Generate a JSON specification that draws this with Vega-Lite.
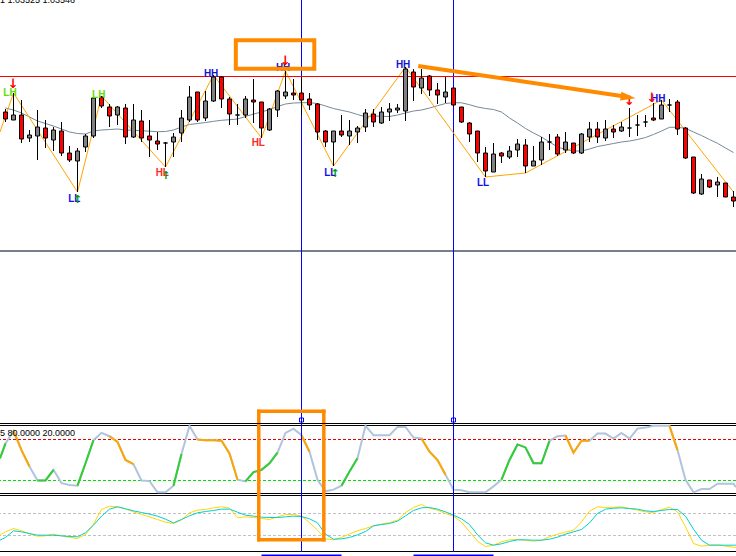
{
"$schema": "https://vega.github.io/schema/vega-lite/v6.json",
"padding": 0,
"spacing": 0,
"bounds": "flush",
"background": "white",
"config": {"view": {"stroke": null}},
"datasets": {
"candles": [
{"i":0,"o":1.03888,"h":1.03891,"l":1.03878,"c":1.03881,"ma":1.03892},
{"i":1,"o":1.03880,"h":1.03907,"l":1.03880,"c":1.03885,"ma":1.03890},
{"i":2,"o":1.03885,"h":1.03900,"l":1.03857,"c":1.03861,"ma":1.03887},
{"i":3,"o":1.03862,"h":1.03870,"l":1.03858,"c":1.03865,"ma":1.03883},
{"i":4,"o":1.03864,"h":1.03890,"l":1.03840,"c":1.03873,"ma":1.03879},
{"i":5,"o":1.03872,"h":1.03880,"l":1.03852,"c":1.03862,"ma":1.038765},
{"i":6,"o":1.03860,"h":1.03873,"l":1.03849,"c":1.03870,"ma":1.03874},
{"i":7,"o":1.03869,"h":1.03878,"l":1.03844,"c":1.03847,"ma":1.03871},
{"i":8,"o":1.03847,"h":1.03854,"l":1.03838,"c":1.03840,"ma":1.03868},
{"i":9,"o":1.03839,"h":1.03852,"l":1.03808,"c":1.03849,"ma":1.038665},
{"i":10,"o":1.03853,"h":1.03866,"l":1.03848,"c":1.03864,"ma":1.03866},
{"i":11,"o":1.03864,"h":1.03903,"l":1.03862,"c":1.03902,"ma":1.03869},
{"i":12,"o":1.03903,"h":1.03904,"l":1.03892,"c":1.03894,"ma":1.03870},
{"i":13,"o":1.03893,"h":1.03896,"l":1.03873,"c":1.03884,"ma":1.038705},
{"i":14,"o":1.03885,"h":1.03894,"l":1.03875,"c":1.03893,"ma":1.03871},
{"i":15,"o":1.03892,"h":1.03896,"l":1.03856,"c":1.03863,"ma":1.03870},
{"i":16,"o":1.03863,"h":1.03896,"l":1.03862,"c":1.03880,"ma":1.038697},
{"i":17,"o":1.03879,"h":1.03890,"l":1.03858,"c":1.03862,"ma":1.038693},
{"i":18,"o":1.03864,"h":1.03880,"l":1.03843,"c":1.03860,"ma":1.038688},
{"i":19,"o":1.03859,"h":1.03868,"l":1.03850,"c":1.03856,"ma":1.038683},
{"i":20,"o":1.03857,"h":1.03858,"l":1.03833,"c":1.03857,"ma":1.038685},
{"i":21,"o":1.03858,"h":1.03867,"l":1.03843,"c":1.03863,"ma":1.03870},
{"i":22,"o":1.03867,"h":1.03890,"l":1.03858,"c":1.03882,"ma":1.03873},
{"i":23,"o":1.03880,"h":1.03914,"l":1.03878,"c":1.03903,"ma":1.038755},
{"i":24,"o":1.03908,"h":1.03908,"l":1.03878,"c":1.03880,"ma":1.038765},
{"i":25,"o":1.03882,"h":1.03909,"l":1.03879,"c":1.03899,"ma":1.038775},
{"i":26,"o":1.03899,"h":1.03925,"l":1.03898,"c":1.03923,"ma":1.038787},
{"i":27,"o":1.03923,"h":1.03924,"l":1.03892,"c":1.03901,"ma":1.038797},
{"i":28,"o":1.03901,"h":1.03903,"l":1.03875,"c":1.03886,"ma":1.038803},
{"i":29,"o":1.03885,"h":1.03896,"l":1.03875,"c":1.03885,"ma":1.03881},
{"i":30,"o":1.03885,"h":1.03904,"l":1.03882,"c":1.03901,"ma":1.038835},
{"i":31,"o":1.03900,"h":1.03921,"l":1.03877,"c":1.03898,"ma":1.03886},
{"i":32,"o":1.03898,"h":1.03898,"l":1.03862,"c":1.03872,"ma":1.03888},
{"i":33,"o":1.03870,"h":1.03892,"l":1.03869,"c":1.03891,"ma":1.038905},
{"i":34,"o":1.03890,"h":1.03910,"l":1.03883,"c":1.03909,"ma":1.038935},
{"i":35,"o":1.03904,"h":1.03929,"l":1.03901,"c":1.03908,"ma":1.03896},
{"i":36,"o":1.03907,"h":1.03921,"l":1.03900,"c":1.03905,"ma":1.03897},
{"i":37,"o":1.03907,"h":1.03923,"l":1.03885,"c":1.03900,"ma":1.038973},
{"i":38,"o":1.03901,"h":1.03907,"l":1.03890,"c":1.03895,"ma":1.038973},
{"i":39,"o":1.03896,"h":1.03897,"l":1.03860,"c":1.03868,"ma":1.038965},
{"i":40,"o":1.03869,"h":1.03870,"l":1.03853,"c":1.03858,"ma":1.03894},
{"i":41,"o":1.03858,"h":1.03869,"l":1.03834,"c":1.03869,"ma":1.038915},
{"i":42,"o":1.03869,"h":1.03885,"l":1.03863,"c":1.03865,"ma":1.038897},
{"i":43,"o":1.03864,"h":1.03880,"l":1.03855,"c":1.03869,"ma":1.03888},
{"i":44,"o":1.03868,"h":1.03874,"l":1.03857,"c":1.03872,"ma":1.038855},
{"i":45,"o":1.03873,"h":1.03891,"l":1.03868,"c":1.03887,"ma":1.038833},
{"i":46,"o":1.03886,"h":1.03891,"l":1.03873,"c":1.03878,"ma":1.03884},
{"i":47,"o":1.03877,"h":1.03893,"l":1.03876,"c":1.03888,"ma":1.038837},
{"i":48,"o":1.03888,"h":1.03897,"l":1.03879,"c":1.03891,"ma":1.038835},
{"i":49,"o":1.03890,"h":1.03896,"l":1.03887,"c":1.03892,"ma":1.03885},
{"i":50,"o":1.03889,"h":1.03933,"l":1.03879,"c":1.03931,"ma":1.03887},
{"i":51,"o":1.03928,"h":1.03931,"l":1.03899,"c":1.03913,"ma":1.03889},
{"i":52,"o":1.03912,"h":1.03931,"l":1.03906,"c":1.03922,"ma":1.03890},
{"i":53,"o":1.03924,"h":1.03925,"l":1.03904,"c":1.03910,"ma":1.03892},
{"i":54,"o":1.03910,"h":1.03917,"l":1.03896,"c":1.03905,"ma":1.038943},
{"i":55,"o":1.03903,"h":1.03923,"l":1.03897,"c":1.03908,"ma":1.038965},
{"i":56,"o":1.03912,"h":1.03912,"l":1.03893,"c":1.03895,"ma":1.038973},
{"i":57,"o":1.03893,"h":1.03893,"l":1.03877,"c":1.03878,"ma":1.038972},
{"i":58,"o":1.03877,"h":1.03878,"l":1.03858,"c":1.03866,"ma":1.038953},
{"i":59,"o":1.03869,"h":1.03869,"l":1.03838,"c":1.03847,"ma":1.03893},
{"i":60,"o":1.03847,"h":1.03853,"l":1.03823,"c":1.03829,"ma":1.038915},
{"i":61,"o":1.03828,"h":1.03857,"l":1.03828,"c":1.03846,"ma":1.038905},
{"i":62,"o":1.03847,"h":1.03848,"l":1.03837,"c":1.03844,"ma":1.03888},
{"i":63,"o":1.03843,"h":1.03854,"l":1.03841,"c":1.03849,"ma":1.03882},
{"i":64,"o":1.03850,"h":1.03861,"l":1.03843,"c":1.03856,"ma":1.03877},
{"i":65,"o":1.03855,"h":1.03861,"l":1.03827,"c":1.03834,"ma":1.038715},
{"i":66,"o":1.03834,"h":1.03854,"l":1.03834,"c":1.03839,"ma":1.03867},
{"i":67,"o":1.03840,"h":1.03863,"l":1.03835,"c":1.03858,"ma":1.03863},
{"i":68,"o":1.03858,"h":1.03866,"l":1.03850,"c":1.03858,"ma":1.03858},
{"i":69,"o":1.03863,"h":1.03866,"l":1.03844,"c":1.03846,"ma":1.03853},
{"i":70,"o":1.03850,"h":1.03868,"l":1.03847,"c":1.03858,"ma":1.038505},
{"i":71,"o":1.03857,"h":1.03857,"l":1.03846,"c":1.03847,"ma":1.03849},
{"i":72,"o":1.03847,"h":1.03867,"l":1.03846,"c":1.03866,"ma":1.03849},
{"i":73,"o":1.03863,"h":1.03878,"l":1.03858,"c":1.03871,"ma":1.03851},
{"i":74,"o":1.03871,"h":1.03878,"l":1.03857,"c":1.03863,"ma":1.038535},
{"i":75,"o":1.03862,"h":1.03880,"l":1.03859,"c":1.03871,"ma":1.03855},
{"i":76,"o":1.03871,"h":1.03875,"l":1.03862,"c":1.03868,"ma":1.038565},
{"i":77,"o":1.03869,"h":1.03878,"l":1.03868,"c":1.03873,"ma":1.03858},
{"i":78,"o":1.03872,"h":1.03892,"l":1.03863,"c":1.03872,"ma":1.03859},
{"i":79,"o":1.03875,"h":1.03885,"l":1.03864,"c":1.03875,"ma":1.038605},
{"i":80,"o":1.03878,"h":1.03885,"l":1.03873,"c":1.03878,"ma":1.038625},
{"i":81,"o":1.03882,"h":1.03897,"l":1.03879,"c":1.03880,"ma":1.038655},
{"i":82,"o":1.03881,"h":1.03900,"l":1.03881,"c":1.03895,"ma":1.03869},
{"i":83,"o":1.03895,"h":1.03901,"l":1.03888,"c":1.03895,"ma":1.038727},
{"i":84,"o":1.03898,"h":1.03900,"l":1.03865,"c":1.03871,"ma":1.038727},
{"i":85,"o":1.03872,"h":1.03873,"l":1.03841,"c":1.03842,"ma":1.038717},
{"i":86,"o":1.03843,"h":1.03843,"l":1.03806,"c":1.03807,"ma":1.03868},
{"i":87,"o":1.03806,"h":1.03826,"l":1.03805,"c":1.03821,"ma":1.038645},
{"i":88,"o":1.03820,"h":1.03820,"l":1.03812,"c":1.03813,"ma":1.038605},
{"i":89,"o":1.03815,"h":1.03823,"l":1.03803,"c":1.03818,"ma":1.038567},
{"i":90,"o":1.03817,"h":1.03817,"l":1.03803,"c":1.03803,"ma":1.03852},
{"i":91,"o":1.03803,"h":1.03809,"l":1.03793,"c":1.03799,"ma":1.038475}
],
"zz": [
{"i":-0.6875,"p":1.03868},{"i":1,"p":1.03907},{"i":9,"p":1.03808},{"i":12,"p":1.03904},{"i":20,"p":1.03833},{"i":26,"p":1.03925},{"i":32,"p":1.03862},{"i":35,"p":1.03929},{"i":41,"p":1.03834},{"i":50,"p":1.03933},{"i":60,"p":1.03823},{"i":65,"p":1.03827},{"i":82,"p":1.03900},{"i":91,"p":1.03808}
],
"labels": [
{"i":0.56,"p":1.03907,"t":"LH"},{"i":8.6,"p":1.03801,"t":"LL"},{"i":11.66,"p":1.039055,"t":"LH"},{"i":19.6,"p":1.03827,"t":"HL"},{"i":25.7,"p":1.03926,"t":"HH"},{"i":31.6,"p":1.03857,"t":"HL"},{"i":34.7,"p":1.03932,"t":"HH"},{"i":40.6,"p":1.038275,"t":"LL"},{"i":49.7,"p":1.03935,"t":"HH"},{"i":59.7,"p":1.03817,"t":"LL"},{"i":81.6,"p":1.03901,"t":"HH"}
],
"signals": [
{"i":0.96,"p":1.03916,"t":"↓"},{"i":9.0,"p":1.038005,"t":"↑"},{"i":20.06,"p":1.03824,"t":"↑"},{"i":35.0,"p":1.03939,"t":"↓"},{"i":41.2,"p":1.03826,"t":"↑"},{"i":78.0,"p":1.03899,"t":"↓"},{"i":80.8,"p":1.03902,"t":"↓"}
],
"cross": [{"i":37},{"i":56}],
"boxes": [{"i":28.79,"i2":38.6,"p":1.039597,"p2":1.039313}],
"arrow": [{"i":51.59,"p":1.03934,"i2":77.0,"p2":1.03904}],
"arrowhead": [{"i":77.83,"p":1.039028}],
"focus": [{"i":31.66,"i2":39.79}],
"focusSides": [{"i":31.66},{"i":39.79}],
"stamps": [{"i":32,"i2":42},{"i":51,"i2":61}],
"osc": [
{"i":-0.6875,"k":52.5,"yel":30.6,"cya":21.5},
{"i":0,"k":74.2,"yel":36.7,"cya":26.4},
{"i":1,"k":92.6,"yel":42.7,"cya":38.5},
{"i":2,"k":64.5,"yel":38.5,"cya":36.7},
{"i":3,"k":40.4,"yel":33.0,"cya":33.6},
{"i":4,"k":20.1,"yel":28.8,"cya":30.6},
{"i":5,"k":20.1,"yel":29.4,"cya":30.6},
{"i":6,"k":35.6,"yel":32.4,"cya":30.6},
{"i":7,"k":16.2,"yel":29.4,"cya":29.4},
{"i":8,"k":13.3,"yel":26.4,"cya":28.2},
{"i":9,"k":12.4,"yel":24.6,"cya":27.6},
{"i":10,"k":45.2,"yel":31.8,"cya":34.9},
{"i":11,"k":79.0,"yel":50.6,"cya":48.8},
{"i":12,"k":89.7,"yel":77.3,"cya":65.2},
{"i":13,"k":84.8,"yel":83.3,"cya":77.9},
{"i":14,"k":76.6,"yel":82.1,"cya":82.1},
{"i":15,"k":50.0,"yel":78.5,"cya":78.5},
{"i":16,"k":43.8,"yel":73.0,"cya":74.8},
{"i":17,"k":20.1,"yel":68.2,"cya":71.8},
{"i":18,"k":19.1,"yel":63.9,"cya":68.8},
{"i":19,"k":2.7,"yel":59.1,"cya":65.2},
{"i":20,"k":2.7,"yel":54.2,"cya":59.7},
{"i":21,"k":12.4,"yel":51.8,"cya":53.0},
{"i":22,"k":58.7,"yel":58.5,"cya":59.1},
{"i":23,"k":100,"yel":71.2,"cya":65.8},
{"i":24,"k":80.0,"yel":76.1,"cya":71.2},
{"i":25,"k":79.0,"yel":77.3,"cya":73.6},
{"i":26,"k":79.0,"yel":80.3,"cya":75.5},
{"i":27,"k":78.1,"yel":82.1,"cya":77.9},
{"i":28,"k":59.7,"yel":79.7,"cya":77.9},
{"i":29,"k":21.1,"yel":62.7,"cya":72.4},
{"i":30,"k":18.6,"yel":63.9,"cya":67.0},
{"i":31,"k":32.2,"yel":62.7,"cya":65.2},
{"i":32,"k":35.6,"yel":60.9,"cya":63.3},
{"i":33,"k":45.2,"yel":59.1,"cya":62.7},
{"i":34,"k":60.7,"yel":63.9,"cya":62.7},
{"i":35,"k":89.7,"yel":68.2,"cya":63.9},
{"i":36,"k":95.9,"yel":68.2,"cya":65.2},
{"i":37,"k":86.3,"yel":65.2,"cya":64.5},
{"i":38,"k":62.1,"yel":53.6,"cya":60.3},
{"i":39,"k":21.1,"yel":39.7,"cya":53.0},
{"i":40,"k":4.2,"yel":23.9,"cya":32.4},
{"i":41,"k":6.6,"yel":22.1,"cya":23.3},
{"i":42,"k":12.4,"yel":26.4,"cya":23.9},
{"i":43,"k":33.1,"yel":33.0,"cya":26.4},
{"i":44,"k":52.5,"yel":38.5,"cya":31.2},
{"i":45,"k":100,"yel":42.7,"cya":37.3},
{"i":46,"k":86.3,"yel":47.6,"cya":47.6},
{"i":47,"k":86.3,"yel":50.6,"cya":50.0},
{"i":48,"k":86.3,"yel":53.6,"cya":51.8},
{"i":49,"k":98.4,"yel":57.9,"cya":56.1},
{"i":50,"k":98.4,"yel":71.8,"cya":65.8},
{"i":51,"k":82.9,"yel":80.9,"cya":75.5},
{"i":52,"k":81.4,"yel":86.4,"cya":80.3},
{"i":53,"k":62.1,"yel":79.7,"cya":80.9},
{"i":54,"k":50.0,"yel":76.1,"cya":77.9},
{"i":55,"k":28.3,"yel":70.0,"cya":73.0},
{"i":56,"k":6.6,"yel":65.2,"cya":67.0},
{"i":57,"k":5.6,"yel":54.2,"cya":60.3},
{"i":58,"k":2.7,"yel":37.3,"cya":50.0},
{"i":59,"k":2.7,"yel":19.7,"cya":31.2},
{"i":60,"k":2.7,"yel":10.0,"cya":16.7},
{"i":61,"k":11.4,"yel":12.4,"cya":12.4},
{"i":62,"k":21.1,"yel":18.5,"cya":14.9},
{"i":63,"k":50.0,"yel":22.1,"cya":19.1},
{"i":64,"k":72.8,"yel":22.7,"cya":22.1},
{"i":65,"k":68.4,"yel":21.5,"cya":22.1},
{"i":66,"k":45.2,"yel":19.7,"cya":21.5},
{"i":67,"k":45.2,"yel":21.5,"cya":21.5},
{"i":68,"k":78.1,"yel":27.6,"cya":23.3},
{"i":69,"k":84.8,"yel":32.4,"cya":27.0},
{"i":70,"k":85.8,"yel":36.1,"cya":32.4},
{"i":71,"k":60.7,"yel":39.7,"cya":36.7},
{"i":72,"k":78.1,"yel":54.9,"cya":40.9},
{"i":73,"k":78.1,"yel":74.2,"cya":53.0},
{"i":74,"k":88.7,"yel":82.1,"cya":70.0},
{"i":75,"k":88.7,"yel":80.9,"cya":77.9},
{"i":76,"k":81.4,"yel":81.5,"cya":79.7},
{"i":77,"k":89.7,"yel":82.1,"cya":80.3},
{"i":78,"k":81.4,"yel":79.1,"cya":79.1},
{"i":79,"k":95.9,"yel":76.1,"cya":77.9},
{"i":80,"k":97.4,"yel":73.0,"cya":74.8},
{"i":81,"k":100,"yel":71.8,"cya":73.6},
{"i":82,"k":100,"yel":77.3,"cya":75.5},
{"i":83,"k":100,"yel":81.5,"cya":77.3},
{"i":84,"k":64.5,"yel":73.0,"cya":77.3},
{"i":85,"k":21.1,"yel":45.8,"cya":65.2},
{"i":86,"k":2.7,"yel":15.5,"cya":41.5},
{"i":87,"k":7.5,"yel":10.6,"cya":21.5},
{"i":88,"k":7.5,"yel":12.4,"cya":12.4},
{"i":89,"k":15.3,"yel":13.1,"cya":12.4},
{"i":90,"k":15.3,"yel":10.6,"cya":12.4},
{"i":91,"k":15.3,"yel":8.8,"cya":12.4},
{"i":91.3125,"k":10.4,"yel":8.2,"cya":12.4}
],
"runs": [
{"run":"G1","col":"up","i":-0.6875},{"run":"G1","col":"up","i":0},
{"run":"O1","col":"down","i":1},{"run":"O1","col":"down","i":2},{"run":"O1","col":"down","i":3},
{"run":"G2","col":"up","i":4},{"run":"G2","col":"up","i":5},{"run":"G2","col":"up","i":6},
{"run":"G3","col":"up","i":9},{"run":"G3","col":"up","i":10},{"run":"G3","col":"up","i":11},
{"run":"O2","col":"down","i":13},{"run":"O2","col":"down","i":14},{"run":"O2","col":"down","i":15},{"run":"O2","col":"down","i":16},
{"run":"G4","col":"up","i":21},{"run":"G4","col":"up","i":22},
{"run":"O3","col":"down","i":24},{"run":"O3","col":"down","i":25},{"run":"O3","col":"down","i":26},{"run":"O3","col":"down","i":27},{"run":"O3","col":"down","i":28},{"run":"O3","col":"down","i":29},
{"run":"G5","col":"up","i":30},{"run":"G5","col":"up","i":31},{"run":"G5","col":"up","i":32},{"run":"G5","col":"up","i":33},{"run":"G5","col":"up","i":34},
{"run":"O4","col":"down","i":37},{"run":"O4","col":"down","i":38},
{"run":"G6","col":"up","i":42},{"run":"G6","col":"up","i":43},{"run":"G6","col":"up","i":44},
{"run":"O5","col":"down","i":52},{"run":"O5","col":"down","i":53},{"run":"O5","col":"down","i":54},{"run":"O5","col":"down","i":55},
{"run":"G7","col":"up","i":62},{"run":"G7","col":"up","i":63},{"run":"G7","col":"up","i":64},{"run":"G7","col":"up","i":65},{"run":"G7","col":"up","i":66},{"run":"G7","col":"up","i":67},{"run":"G7","col":"up","i":68},
{"run":"O6","col":"down","i":70},{"run":"O6","col":"down","i":71},{"run":"O6","col":"down","i":72},{"run":"O6","col":"down","i":73},
{"run":"O7","col":"down","i":83},{"run":"O7","col":"down","i":84}
]
},
"vconcat": [
{
"width": 736, "height": 424,
"resolve": {"scale": {"color": "independent"}},
"layer": [
{"data": {"values": [{"p": 1.03749}]}, "mark": {"type": "rule", "color": "#76808a", "strokeWidth": 2, "clip": true},
 "encoding": {"y": {"field": "p", "type": "quantitative", "scale": {"domain": [1.03576, 1.04], "nice": false, "zero": false}, "axis": null}}},
{"data": {"name": "cross"}, "mark": {"type": "rule", "color": "#0000ff", "strokeWidth": 1, "clip": true},
 "encoding": {"x": {"field": "i", "type": "quantitative", "scale": {"domain": [-0.6875, 91.3125], "nice": false, "zero": false, "padding": 0}, "axis": null}}},
{"data": {"name": "candles"}, "mark": {"type": "line", "color": "#778899", "strokeWidth": 1, "clip": true},
 "encoding": {"x": {"field": "i", "type": "quantitative", "scale": {"domain": [-0.6875, 91.3125], "nice": false, "zero": false, "padding": 0}, "axis": null},
  "y": {"field": "ma", "type": "quantitative", "scale": {"domain": [1.03576, 1.04], "nice": false, "zero": false}, "axis": null}}},
{"data": {"name": "zz"}, "mark": {"type": "line", "color": "#ffa500", "strokeWidth": 1, "clip": true},
 "encoding": {"x": {"field": "i", "type": "quantitative", "scale": {"domain": [-0.6875, 91.3125], "nice": false, "zero": false, "padding": 0}, "axis": null},
  "y": {"field": "p", "type": "quantitative", "scale": {"domain": [1.03576, 1.04], "nice": false, "zero": false}, "axis": null}}},
{"data": {"values": [{"p": 1.039235}]}, "mark": {"type": "rule", "color": "#ff0000", "strokeWidth": 1, "clip": true},
 "encoding": {"y": {"field": "p", "type": "quantitative", "scale": {"domain": [1.03576, 1.04], "nice": false, "zero": false}, "axis": null}}},
{"data": {"name": "candles"}, "mark": {"type": "rule", "color": "#000000", "strokeWidth": 1, "clip": true},
 "encoding": {"x": {"field": "i", "type": "quantitative", "scale": {"domain": [-0.6875, 91.3125], "nice": false, "zero": false, "padding": 0}, "axis": null},
  "y": {"field": "l", "type": "quantitative", "scale": {"domain": [1.03576, 1.04], "nice": false, "zero": false}, "axis": null},
  "y2": {"field": "h"}}},
{"data": {"name": "candles"}, "mark": {"type": "bar", "size": 4, "stroke": "#000000", "strokeWidth": 1, "clip": true},
 "encoding": {"x": {"field": "i", "type": "quantitative", "scale": {"domain": [-0.6875, 91.3125], "nice": false, "zero": false, "padding": 0}, "axis": null},
  "y": {"field": "o", "type": "quantitative", "scale": {"domain": [1.03576, 1.04], "nice": false, "zero": false}, "axis": null},
  "y2": {"field": "c"},
  "color": {"condition": {"test": "datum.c < datum.o", "value": "#ff0000"}, "value": "#808080"}}},
{"data": {"name": "labels"}, "mark": {"type": "text", "font": "Liberation Sans", "fontWeight": "bold", "fontSize": 10, "baseline": "middle", "align": "center", "clip": true},
 "encoding": {"x": {"field": "i", "type": "quantitative", "scale": {"domain": [-0.6875, 91.3125], "nice": false, "zero": false, "padding": 0}, "axis": null},
  "y": {"field": "p", "type": "quantitative", "scale": {"domain": [1.03576, 1.04], "nice": false, "zero": false}, "axis": null},
  "text": {"field": "t"},
  "color": {"field": "t", "type": "nominal", "scale": {"domain": ["HH", "LL", "HL", "LH"], "range": ["#1414d2", "#1010ee", "#ff2a2a", "#5ee000"]}, "legend": null}}},
{"data": {"name": "signals"}, "transform": [{"filter": "datum.t == '↓'"}],
 "mark": {"type": "text", "font": "DejaVu Sans", "fontWeight": "bold", "fontSize": 13, "baseline": "middle", "align": "center", "color": "#ff0000", "clip": true},
 "encoding": {"x": {"field": "i", "type": "quantitative", "scale": {"domain": [-0.6875, 91.3125], "nice": false, "zero": false, "padding": 0}, "axis": null},
  "y": {"field": "p", "type": "quantitative", "scale": {"domain": [1.03576, 1.04], "nice": false, "zero": false}, "axis": null},
  "text": {"field": "t"}}},
{"data": {"name": "signals"}, "transform": [{"filter": "datum.t == '↑'"}],
 "mark": {"type": "text", "font": "DejaVu Sans", "fontWeight": "bold", "fontSize": 11, "baseline": "middle", "align": "center", "color": "#009a00", "clip": true},
 "encoding": {"x": {"field": "i", "type": "quantitative", "scale": {"domain": [-0.6875, 91.3125], "nice": false, "zero": false, "padding": 0}, "axis": null},
  "y": {"field": "p", "type": "quantitative", "scale": {"domain": [1.03576, 1.04], "nice": false, "zero": false}, "axis": null},
  "text": {"field": "t"}}},
{"data": {"name": "boxes"}, "mark": {"type": "rect", "fillOpacity": 0, "stroke": "#ff8a00", "strokeWidth": 4, "clip": true},
 "encoding": {"x": {"field": "i", "type": "quantitative", "scale": {"domain": [-0.6875, 91.3125], "nice": false, "zero": false, "padding": 0}, "axis": null},
  "x2": {"field": "i2"},
  "y": {"field": "p", "type": "quantitative", "scale": {"domain": [1.03576, 1.04], "nice": false, "zero": false}, "axis": null},
  "y2": {"field": "p2"}}},
{"data": {"name": "arrow"}, "mark": {"type": "rule", "color": "#ff8a00", "strokeWidth": 4, "clip": true},
 "encoding": {"x": {"field": "i", "type": "quantitative", "scale": {"domain": [-0.6875, 91.3125], "nice": false, "zero": false, "padding": 0}, "axis": null},
  "x2": {"field": "i2"},
  "y": {"field": "p", "type": "quantitative", "scale": {"domain": [1.03576, 1.04], "nice": false, "zero": false}, "axis": null},
  "y2": {"field": "p2"}}},
{"data": {"name": "arrowhead"}, "mark": {"type": "point", "shape": "M -1 -0.6 L 1 0 L -1 0.6 Z", "size": 225, "angle": 8.4, "filled": true, "color": "#ff8a00", "opacity": 1, "clip": true},
 "encoding": {"x": {"field": "i", "type": "quantitative", "scale": {"domain": [-0.6875, 91.3125], "nice": false, "zero": false, "padding": 0}, "axis": null},
  "y": {"field": "p", "type": "quantitative", "scale": {"domain": [1.03576, 1.04], "nice": false, "zero": false}, "axis": null}}},
{"data": {"name": "focus"}, "mark": {"type": "rule", "color": "#ff8a00", "strokeWidth": 3.5, "strokeCap": "square", "clip": true},
 "encoding": {"x": {"field": "i", "type": "quantitative", "scale": {"domain": [-0.6875, 91.3125], "nice": false, "zero": false, "padding": 0}, "axis": null},
  "x2": {"field": "i2"},
  "y": {"datum": 1.035887, "type": "quantitative", "scale": {"domain": [1.03576, 1.04], "nice": false, "zero": false}, "axis": null}}},
{"data": {"name": "focusSides"}, "mark": {"type": "rule", "color": "#ff8a00", "strokeWidth": 3.5, "strokeCap": "square", "clip": true},
 "encoding": {"x": {"field": "i", "type": "quantitative", "scale": {"domain": [-0.6875, 91.3125], "nice": false, "zero": false, "padding": 0}, "axis": null},
  "y": {"datum": 1.035887, "type": "quantitative", "scale": {"domain": [1.03576, 1.04], "nice": false, "zero": false}, "axis": null},
  "y2": {"datum": 1.03576}}},
{"data": {"values": [{"p": 1.035765}]}, "mark": {"type": "rule", "color": "#000000", "strokeWidth": 1, "clip": true},
 "encoding": {"y": {"field": "p", "type": "quantitative", "scale": {"domain": [1.03576, 1.04], "nice": false, "zero": false}, "axis": null}}},
{"data": {"name": "cross"}, "mark": {"type": "point", "shape": "square", "size": 16, "filled": false, "color": "#0000ff", "strokeWidth": 1, "opacity": 1, "clip": true},
 "encoding": {"x": {"field": "i", "type": "quantitative", "scale": {"domain": [-0.6875, 91.3125], "nice": false, "zero": false, "padding": 0}, "axis": null},
  "y": {"datum": 1.0358, "type": "quantitative", "scale": {"domain": [1.03576, 1.04], "nice": false, "zero": false}, "axis": null}}},
{"data": {"values": [{"t": "1 1.03525 1.03546"}]}, "mark": {"type": "text", "align": "left", "baseline": "alphabetic", "fontSize": 9, "font": "Liberation Sans", "clip": true, "color": "#000000"},
 "encoding": {"x": {"datum": -0.6875, "type": "quantitative", "scale": {"domain": [-0.6875, 91.3125], "nice": false, "zero": false, "padding": 0}, "axis": null},
  "y": {"datum": 1.039975, "type": "quantitative", "scale": {"domain": [1.03576, 1.04], "nice": false, "zero": false}, "axis": null},
  "text": {"field": "t"}}}
]
},
{
"width": 736, "height": 70,
"layer": [
{"data": {"values": [{"v": 100.49}, {"v": 0.97}]}, "mark": {"type": "rule", "color": "#000000", "strokeWidth": 1, "clip": true},
 "encoding": {"y": {"field": "v", "type": "quantitative", "scale": {"domain": [0.244, 102.68], "nice": false, "zero": false}, "axis": null}}},
{"data": {"values": [{"v": 80}]}, "mark": {"type": "rule", "color": "#e00000", "strokeWidth": 1, "strokeDash": [3, 2], "clip": true},
 "encoding": {"y": {"field": "v", "type": "quantitative", "scale": {"domain": [0.244, 102.68], "nice": false, "zero": false}, "axis": null}}},
{"data": {"values": [{"v": 20}]}, "mark": {"type": "rule", "color": "#00dd00", "strokeWidth": 1, "strokeDash": [3, 2], "clip": true},
 "encoding": {"y": {"field": "v", "type": "quantitative", "scale": {"domain": [0.244, 102.68], "nice": false, "zero": false}, "axis": null}}},
{"data": {"name": "osc"}, "mark": {"type": "line", "color": "#b0c4de", "strokeWidth": 2, "clip": true},
 "encoding": {"x": {"field": "i", "type": "quantitative", "scale": {"domain": [-0.6875, 91.3125], "nice": false, "zero": false, "padding": 0}, "axis": null},
  "y": {"field": "k", "type": "quantitative", "scale": {"domain": [0.244, 102.68], "nice": false, "zero": false}, "axis": null}}},
{"data": {"name": "runs"},
 "transform": [{"lookup": "i", "from": {"data": {"name": "osc"}, "key": "i", "fields": ["k"]}}],
 "mark": {"type": "line", "strokeWidth": 2, "clip": true},
 "encoding": {"x": {"field": "i", "type": "quantitative", "scale": {"domain": [-0.6875, 91.3125], "nice": false, "zero": false, "padding": 0}, "axis": null},
  "y": {"field": "k", "type": "quantitative", "scale": {"domain": [0.244, 102.68], "nice": false, "zero": false}, "axis": null},
  "color": {"field": "col", "type": "nominal", "scale": {"domain": ["up", "down"], "range": ["#32cd32", "#ffa500"]}, "legend": null},
  "detail": {"field": "run"}}},
{"data": {"name": "cross"}, "mark": {"type": "rule", "color": "#0000ff", "strokeWidth": 1, "clip": true},
 "encoding": {"x": {"field": "i", "type": "quantitative", "scale": {"domain": [-0.6875, 91.3125], "nice": false, "zero": false, "padding": 0}, "axis": null}}},
{"data": {"name": "focusSides"}, "mark": {"type": "rule", "color": "#ff8a00", "strokeWidth": 3.5, "clip": true},
 "encoding": {"x": {"field": "i", "type": "quantitative", "scale": {"domain": [-0.6875, 91.3125], "nice": false, "zero": false, "padding": 0}, "axis": null},
  "y": {"datum": 102.68, "type": "quantitative", "scale": {"domain": [0.244, 102.68], "nice": false, "zero": false}, "axis": null},
  "y2": {"datum": 0.244}}},
{"data": {"values": [{"t": "5 80.0000 20.0000"}]}, "mark": {"type": "text", "align": "left", "baseline": "middle", "fontSize": 9, "font": "Liberation Sans", "color": "#000000", "clip": true},
 "encoding": {"x": {"datum": -0.6875, "type": "quantitative", "scale": {"domain": [-0.6875, 91.3125], "nice": false, "zero": false, "padding": 0}, "axis": null},
  "y": {"datum": 89.5, "type": "quantitative", "scale": {"domain": [0.244, 102.68], "nice": false, "zero": false}, "axis": null},
  "text": {"field": "t"}}}
]
},
{
"width": 736, "height": 58,
"layer": [
{"data": {"values": [{"v": 102.72}, {"v": 0.9}]}, "mark": {"type": "rule", "color": "#000000", "strokeWidth": 1, "clip": true},
 "encoding": {"y": {"field": "v", "type": "quantitative", "scale": {"domain": [0, 105.45], "nice": false, "zero": false}, "axis": null}}},
{"data": {"values": [{"v": 70}, {"v": 30}]}, "mark": {"type": "rule", "color": "#c0c0c0", "strokeWidth": 1, "strokeDash": [3, 2], "clip": true},
 "encoding": {"y": {"field": "v", "type": "quantitative", "scale": {"domain": [0, 105.45], "nice": false, "zero": false}, "axis": null}}},
{"data": {"name": "osc"}, "mark": {"type": "line", "color": "#ffd700", "strokeWidth": 1, "clip": true},
 "encoding": {"x": {"field": "i", "type": "quantitative", "scale": {"domain": [-0.6875, 91.3125], "nice": false, "zero": false, "padding": 0}, "axis": null},
  "y": {"field": "yel", "type": "quantitative", "scale": {"domain": [0, 105.45], "nice": false, "zero": false}, "axis": null}}},
{"data": {"name": "osc"}, "mark": {"type": "line", "color": "#00ced1", "strokeWidth": 1, "clip": true},
 "encoding": {"x": {"field": "i", "type": "quantitative", "scale": {"domain": [-0.6875, 91.3125], "nice": false, "zero": false, "padding": 0},
   "axis": {"values": [6, 14, 22, 30, 38, 46, 54, 62, 70, 78, 86], "labels": false, "title": null, "grid": false, "domain": false, "tickSize": 5, "tickColor": "#000000", "tickWidth": 1}},
  "y": {"field": "cya", "type": "quantitative", "scale": {"domain": [0, 105.45], "nice": false, "zero": false}, "axis": null}}},
{"data": {"name": "cross"}, "mark": {"type": "rule", "color": "#0000ff", "strokeWidth": 1, "clip": true},
 "encoding": {"x": {"field": "i", "type": "quantitative", "scale": {"domain": [-0.6875, 91.3125], "nice": false, "zero": false, "padding": 0}, "axis": null}}},
{"data": {"name": "focusSides"}, "mark": {"type": "rule", "color": "#ff8a00", "strokeWidth": 3.5, "strokeCap": "square", "clip": true},
 "encoding": {"x": {"field": "i", "type": "quantitative", "scale": {"domain": [-0.6875, 91.3125], "nice": false, "zero": false, "padding": 0}, "axis": null},
  "y": {"datum": 105.45, "type": "quantitative", "scale": {"domain": [0, 105.45], "nice": false, "zero": false}, "axis": null},
  "y2": {"datum": 22.35}}},
{"data": {"name": "focus"}, "mark": {"type": "rule", "color": "#ff8a00", "strokeWidth": 3.5, "strokeCap": "square", "clip": true},
 "encoding": {"x": {"field": "i", "type": "quantitative", "scale": {"domain": [-0.6875, 91.3125], "nice": false, "zero": false, "padding": 0}, "axis": null},
  "x2": {"field": "i2"},
  "y": {"datum": 22.35, "type": "quantitative", "scale": {"domain": [0, 105.45], "nice": false, "zero": false}, "axis": null}}},
{"data": {"name": "stamps"}, "mark": {"type": "rule", "color": "#0000ff", "strokeWidth": 1.5},
 "encoding": {"x": {"field": "i", "type": "quantitative", "scale": {"domain": [-0.6875, 91.3125], "nice": false, "zero": false, "padding": 0}, "axis": null},
  "x2": {"field": "i2"},
  "y": {"datum": -6.0, "type": "quantitative", "scale": {"domain": [0, 105.45], "nice": false, "zero": false}, "axis": null}}}
]
}
]
}
